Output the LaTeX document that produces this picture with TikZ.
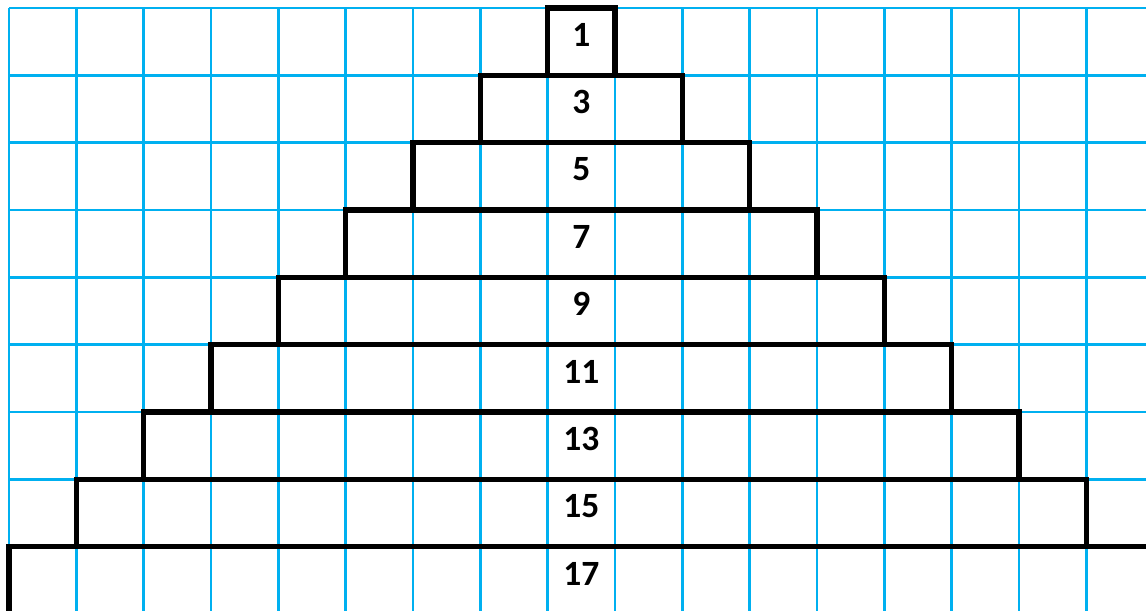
\documentclass[tikz,border=0pt]{standalone}
\usepackage{fontspec}
\setmainfont{Carlito}
\definecolor{GridBlue}{HTML}{00B0F0}

\begin{document}
\begin{tikzpicture}[
    gridline/.style={GridBlue, line width=1.05pt},
    layer/.style={
      draw=black, line width=2.3pt, minimum height=1cm, inner sep=0pt,
      font=\fontsize{15}{18}\selectfont\bfseries
    }
  ]
  \useasboundingbox (-0.134,0.119) rectangle (16.887,-8.941);
  \clip (-0.134,0.119) rectangle (16.887,-8.941);
  % squared paper
  \draw[gridline] (0,-9) grid (17,0);
  % the rows of the pyramid, 1 to 17 squares wide
  \foreach \r in {0,...,8}{
    \pgfmathtruncatemacro\n{2*\r+1}
    \node[layer, minimum width=\n cm] (row\n) at (8.5,-\r-0.5) {};
    \node[inner sep=0pt, font=\fontsize{15}{18}\selectfont\bfseries]
      (num\n) at ([yshift=0.1cm]row\n.center) {\n};
  }
\end{tikzpicture}
\end{document}
